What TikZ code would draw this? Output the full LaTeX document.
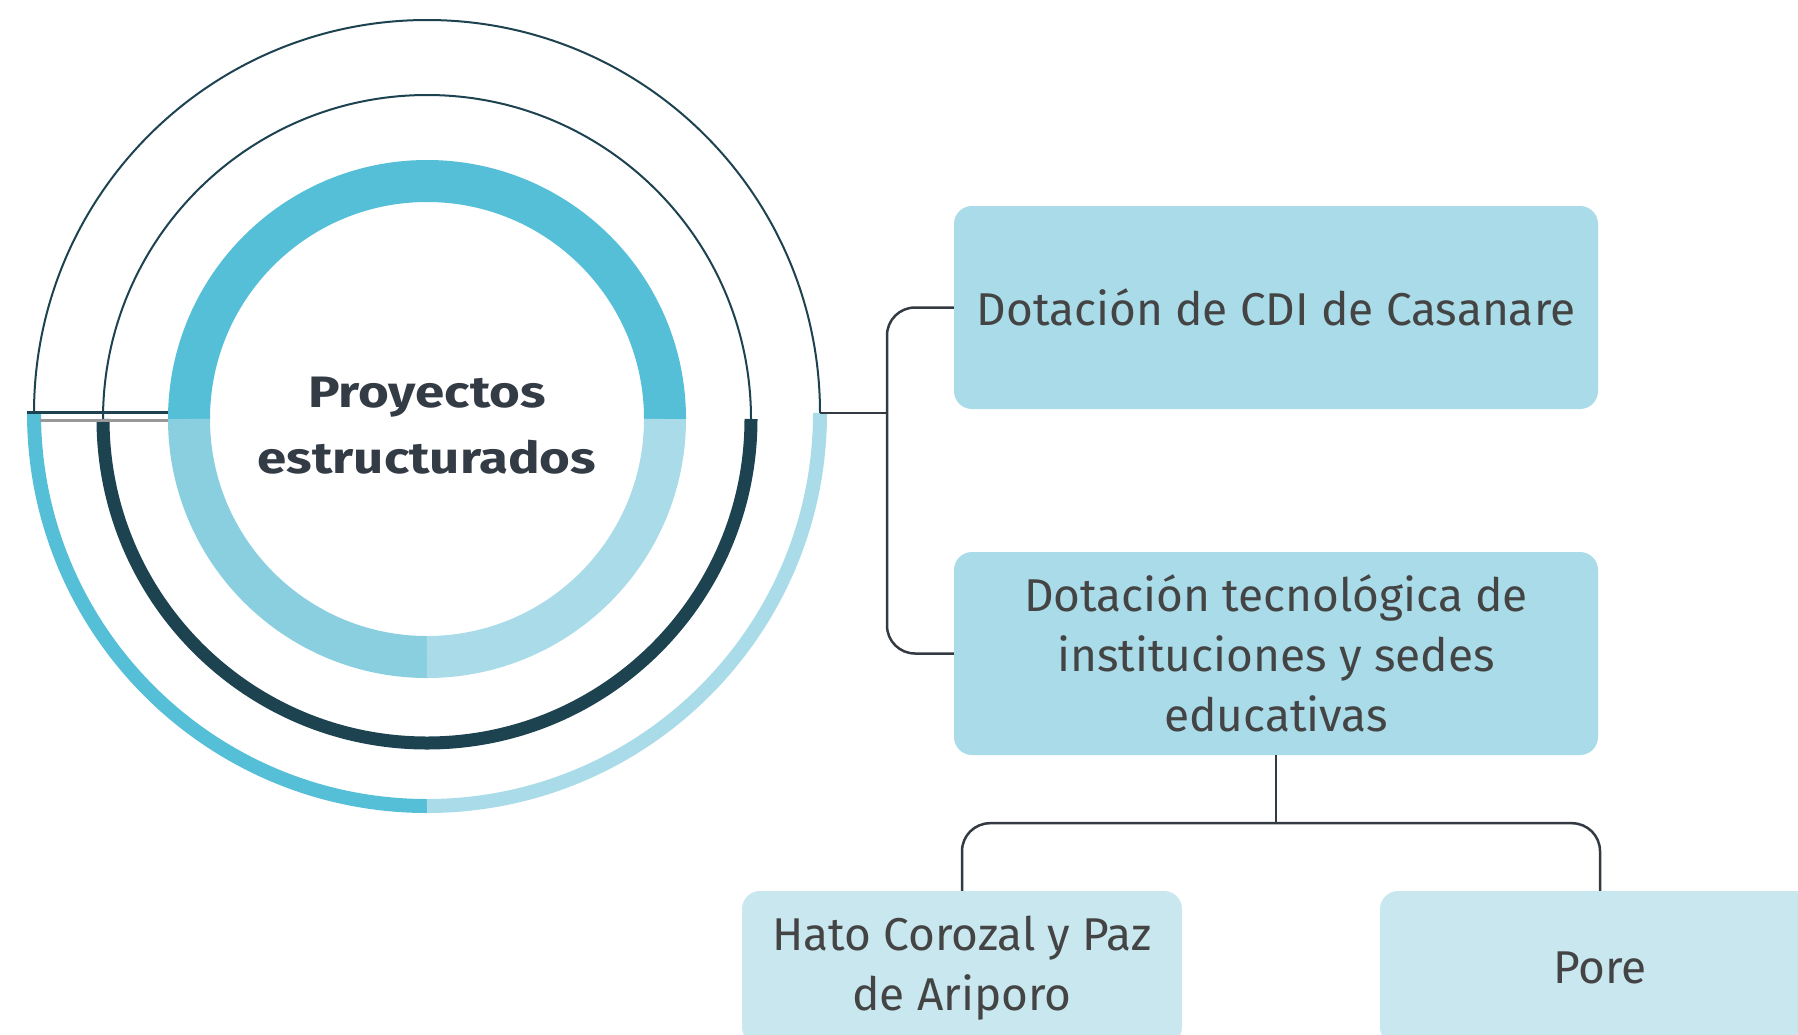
\documentclass[tikz,border=0pt]{standalone}
\usepackage{fontspec}
\setmainfont{Fira Sans}
\newfontfamily\titlefont[FakeStretch=1.2]{Fira Sans}
\usetikzlibrary{positioning}
\definecolor{ringcyan}{HTML}{55BFD8}
\definecolor{ringmid}{HTML}{8ACFE0}
\definecolor{ringlight}{HTML}{A9DBE8}
\definecolor{ringdark}{HTML}{1D4250}
\definecolor{boxblue}{HTML}{A9DBE8}
\definecolor{subblue}{HTML}{C9E7EF}
\definecolor{linegray}{HTML}{333A42}
\definecolor{textgray}{HTML}{444444}
\definecolor{titlegray}{HTML}{333B45}
\begin{document}
\begin{tikzpicture}[x=1pt, y=1pt,
  mainbox/.style={fill=boxblue, rounded corners=18, minimum width=644, minimum height=203, inner sep=0, align=center, text=textgray, font=\fontsize{46}{60}\selectfont},
  subbox/.style={mainbox, fill=subblue, minimum width=440, minimum height=154},
  conn/.style={draw=linegray, line width=2.5, rounded corners=28}]
\path[use as bounding box, clip] (0,0) rectangle (1798,-1034);
\coordinate (c) at (427,-419);
\coordinate (co) at (427,-413);
\foreach \a/\b/\col in {180/0/ringcyan, 180/270/ringmid, 270/360/ringlight} {\draw[line width=42, \col] (c) ++(\a:238) arc[start angle=\a, end angle=\b, radius=238];}
\draw[ringdark, line width=2] (c) ++(180:324) arc[start angle=180, end angle=0, radius=324];
\draw[ringdark, line width=13] (c) ++(180:324) arc[start angle=180, end angle=360, radius=324];
\draw[ringdark, line width=2] (co) ++(180:393) arc[start angle=180, end angle=0, radius=393];
\foreach \a/\b/\col in {180/270/ringcyan, 270/360/ringlight} {\draw[line width=14, \col] (co) ++(\a:393) arc[start angle=\a, end angle=\b, radius=393];}
\draw[ringdark, line width=3] (27,-412) -- (168,-412);
\draw[gray!80, line width=3] (40,-420) -- (168,-420);
\node[font=\fontsize{44}{66}\titlefont\bfseries, text=titlegray, align=center] (title) at (427,-426) {Proyectos\\estructurados};
\coordinate (hub) at (820,-413);
\coordinate (trunk) at (887,-413);
\node[mainbox] (cdi) at (1276,-307.5) {Dotación de CDI de Casanare};
\node[mainbox] (tec) at (1276,-653.5) {Dotación tecnológica de\\instituciones y sedes\\educativas};
\node[subbox] (hato) at (962,-968) {Hato Corozal y Paz\\de Ariporo};
\node[subbox] (pore) at (1600,-968) {Pore};
\draw[conn] (hub) -- (trunk);
\draw[conn] (cdi.west) -| (trunk) |- (tec.west);
\draw[conn] (tec.south) -- ++(0,-68) coordinate (fork);
\draw[conn] (hato.north) |- (fork) -| (pore.north);
\end{tikzpicture}
\end{document}
